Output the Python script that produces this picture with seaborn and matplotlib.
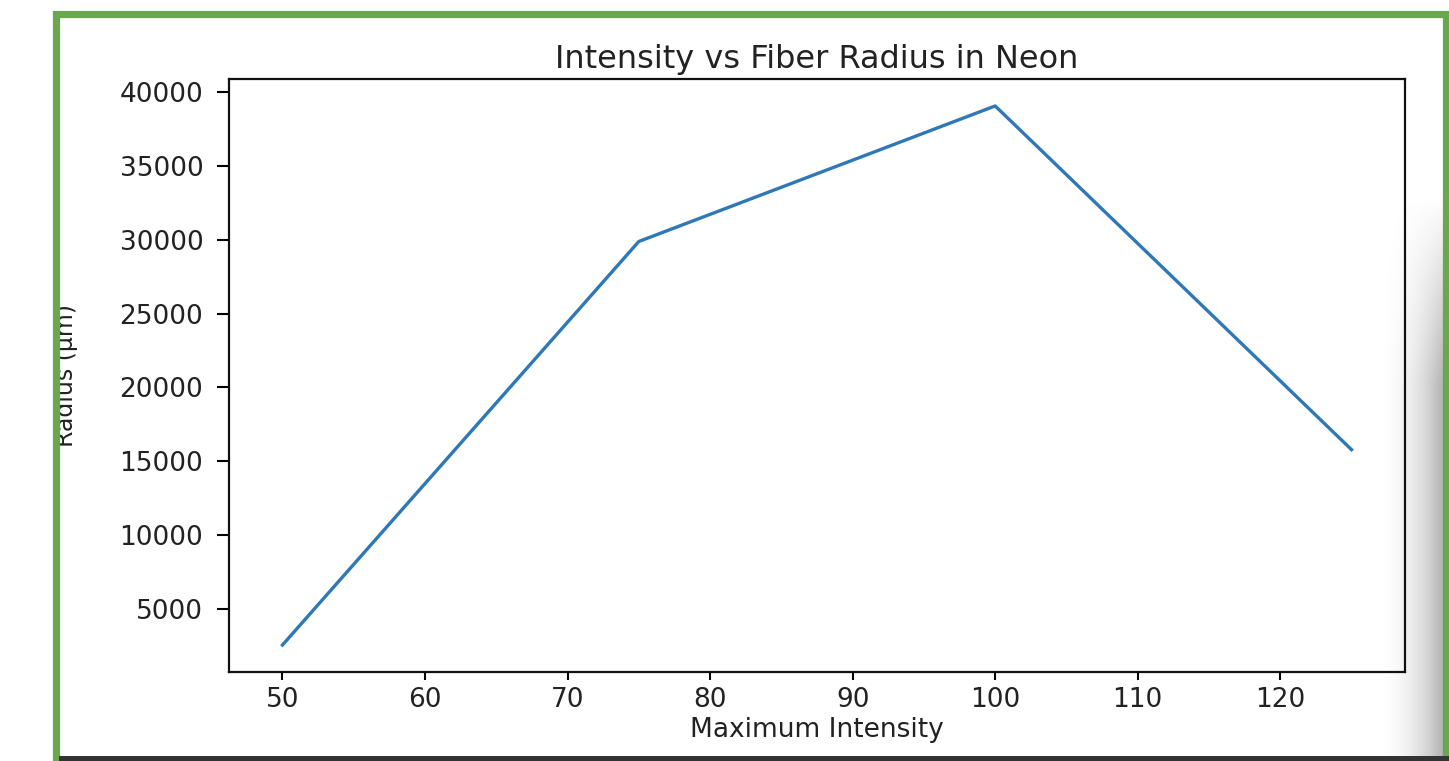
import numpy as np
import pandas as pd
import matplotlib
matplotlib.use("Agg")
import matplotlib.pyplot as plt
import seaborn as sns
from matplotlib.patches import Rectangle

# ---- data ----
max_intensity = [50, 75, 100, 125]
radius_um = [2570, 29880, 39050, 15790]
title = "Intensity vs Fiber Radius in Neon"
xlabel = "Maximum Intensity"
ylabel = "Radius (μm)"

W, H = 1449, 761
fig = plt.figure(figsize=(W / 100, H / 100), dpi=100)
fig.patch.set_facecolor("white")

# shadow gradient on right (screenshot decoration)
sh = fig.add_axes([1375 / W, 0, (1443 - 1375) / W, 1 - 195 / H], zorder=0)
gx = np.linspace(0, 1, 200) ** 2.2
gy = np.clip(np.linspace(0, 1, 200) * 3.0, 0, 1)[:, None]
grad = 1 - 0.30 * gx[None, :] * gy
sh.imshow(grad, cmap="gray", vmin=0, vmax=1, aspect="auto", origin="upper",
          extent=[0, 1, 0, 1], interpolation="bilinear")
sh.set_axis_off()

ax = fig.add_axes([229 / W, 1 - 672 / H, (1405 - 229) / W, (672 - 79) / H], zorder=2)
ax.patch.set_alpha(0)

df = pd.DataFrame({"x": max_intensity, "y": radius_um})
sns.lineplot(data=df, x="x", y="y", ax=ax, color="#2f78b7", linewidth=2.4)

ax.set_title(title, fontsize=23, pad=8, family="DejaVu Sans", color="#222222")
ax.set_xlabel(xlabel, fontsize=19, labelpad=3, family="DejaVu Sans", color="#222222")
ax.set_ylabel(ylabel, fontsize=17, family="Liberation Sans Narrow", color="#222222")
ax.yaxis.set_label_coords((78 - 229) / (1405 - 229), 0.5)

for s in ax.spines.values():
    s.set_linewidth(1.6)
    s.set_color("#111111")
ax.tick_params(axis="y", length=8.5, width=1.5, pad=10, labelsize=19, labelcolor="#222222")
ax.tick_params(axis="x", length=5.6, width=1.5, pad=5, labelsize=19, labelcolor="#222222")

# green screenshot border
border = Rectangle((55.5 / W, 0), (1446 - 55.5) / W, 1 - 13.5 / H,
                   transform=fig.transFigure, fill=False, edgecolor="#6aa84f",
                   linewidth=5.2, zorder=5)
fig.add_artist(border)
fig.add_artist(Rectangle((59 / W, 0), (W - 59) / W, 5 / H, transform=fig.transFigure,
                         facecolor="#333333", edgecolor="none", zorder=6))

fig.savefig("out.png", dpi=100)
